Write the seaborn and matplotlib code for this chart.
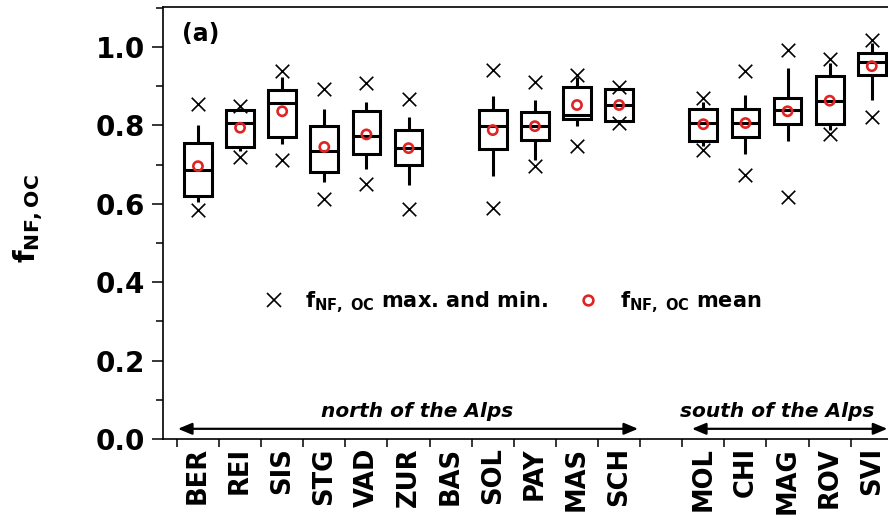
import numpy as np
import pandas as pd
import matplotlib
matplotlib.use("Agg")
import matplotlib.pyplot as plt
from matplotlib.lines import Line2D
from matplotlib.ticker import FixedLocator, MultipleLocator
import seaborn as sns

# Stations (BAS has no data), north-of-Alps group then south-of-Alps group
stations = ["BER", "REI", "SIS", "STG", "VAD", "ZUR", "BAS", "SOL", "PAY", "MAS",
            "SCH", "MOL", "CHI", "MAG", "ROV", "SVI"]
positions = [0, 1, 2, 3, 4, 5, 6, 7, 8, 9, 10, 12, 13, 14, 15, 16]

nan = np.nan
f_max = [0.854, 0.849, 0.939, 0.894, 0.909, 0.867, nan, 0.941, 0.911, 0.928,
         0.897, 0.871, 0.939, 0.992, 0.969, 1.018]
whisker_high = [0.801, 0.845, 0.923, 0.843, 0.860, 0.822, nan, 0.875, 0.866, 0.923,
                0.894, 0.859, 0.877, 0.946, 0.959, 1.010]
q3 = [0.754, 0.839, 0.890, 0.798, 0.836, 0.788, nan, 0.839, 0.835, 0.897,
      0.893, 0.841, 0.841, 0.871, 0.926, 0.984]
median = [0.685, 0.806, 0.856, 0.734, 0.773, 0.742, nan, 0.798, 0.798, 0.826,
          0.852, 0.806, 0.806, 0.839, 0.863, 0.961]
q1 = [0.621, 0.745, 0.771, 0.681, 0.726, 0.698, nan, 0.741, 0.764, 0.816,
      0.812, 0.760, 0.771, 0.803, 0.803, 0.928]
whisker_low = [0.604, 0.734, 0.752, 0.656, 0.690, 0.647, nan, 0.670, 0.711, 0.798,
               0.810, 0.747, 0.726, 0.760, 0.788, 0.864]
f_min = [0.585, 0.719, 0.711, 0.611, 0.651, 0.586, nan, 0.590, 0.696, 0.747,
         0.806, 0.737, 0.673, 0.617, 0.777, 0.822]
f_mean = [0.696, 0.794, 0.836, 0.745, 0.777, 0.742, nan, 0.788, 0.798, 0.852,
          0.852, 0.803, 0.806, 0.836, 0.863, 0.951]

RED = "#e02424"

sns.set_style("ticks")
plt.rcParams["font.family"] = ["DejaVu Sans"]
plt.rcParams["font.weight"] = "bold"
plt.rcParams["mathtext.fontset"] = "dejavusans"
for key in ("text.color", "axes.labelcolor", "xtick.color", "ytick.color", "axes.edgecolor"):
    plt.rcParams[key] = "black"

# five box statistics per station -> whis=(0, 100) reproduces them exactly
rows = []
for st, p, a, b, c, d, e in zip(stations, positions, whisker_low, q1, median, q3, whisker_high):
    if np.isnan(c):
        continue
    for v in (a, b, c, d, e):
        rows.append({"station": st, "pos": p, "value": v})
box_df = pd.DataFrame(rows)

pts = pd.DataFrame({"pos": positions, "fmin": f_min, "fmax": f_max, "fmean": f_mean}).dropna()

fig = plt.figure(figsize=(8.88, 5.16), dpi=100)
ax = fig.add_axes([163 / 888, 77 / 516, 737 / 888, 432 / 516])

sns.boxplot(data=box_df, x="pos", y="value", native_scale=True, whis=(0, 100),
            width=0.66, color="white", linecolor="black", linewidth=2.2,
            showcaps=False, showfliers=False, ax=ax)

for col in ("fmax", "fmin"):
    sns.scatterplot(data=pts, x="pos", y=col, marker="x", color="black", s=95,
                    linewidth=1.2, legend=False, ax=ax, zorder=4)
sns.scatterplot(data=pts, x="pos", y="fmean", marker="o", s=44,
                legend=False, ax=ax, zorder=6)
mean_coll = ax.collections[-1]
mean_coll.set_facecolor("none")
mean_coll.set_edgecolor(RED)
mean_coll.set_linewidth(1.9)

ax.set_xlim(-0.83, 16.67)
ax.set_ylim(0, 1.102)

ax.xaxis.set_major_locator(FixedLocator(positions))
ax.set_xticklabels(stations, rotation=90, fontsize=18.5, fontweight="bold")
ax.xaxis.set_minor_locator(FixedLocator(np.arange(-0.5, 17.0, 1.0)))
ax.tick_params(axis="x", which="major", length=0, pad=6)
ax.tick_params(axis="x", which="minor", length=6, width=1.1, direction="out")

ax.yaxis.set_minor_locator(MultipleLocator(0.1))
ax.set_yticks(np.arange(0, 1.01, 0.2))
ax.set_yticklabels([f"{v:.1f}" for v in np.arange(0, 1.01, 0.2)], fontsize=20, fontweight="bold")
ax.tick_params(axis="y", which="major", length=8, width=1.1, pad=5)
ax.tick_params(axis="y", which="minor", length=5, width=1.1)

for s in ax.spines.values():
    s.set_linewidth(1.2)
    s.set_color("black")

ax.set_xlabel("")
ax.set_ylabel(r"$\mathbf{f}_{\mathbf{NF,OC}}$", fontsize=21)
ax.yaxis.set_label_coords(-0.16, 0.51)

ax.text(0.06, 1.033, "(a)", fontsize=17, fontweight="bold", ha="center", va="center")

# region arrows and labels
arrow_kw = dict(arrowstyle="<|-|>,head_length=0.6,head_width=0.25", color="black",
                lw=1.6, shrinkA=0, shrinkB=0, mutation_scale=14)
ax.annotate("", xy=(-0.475, 0.026), xytext=(10.45, 0.026), arrowprops=arrow_kw)
ax.annotate("", xy=(11.73, 0.026), xytext=(16.37, 0.026), arrowprops=arrow_kw)
ax.text(5.2, 0.069, "north of the Alps", fontsize=14.5, fontweight="bold",
        style="italic", ha="center", va="center")
ax.text(13.75, 0.069, "south of the Alps", fontsize=14.5, fontweight="bold",
        style="italic", ha="center", va="center")

handles = [
    Line2D([], [], marker="x", ls="none", color="black", ms=10, mew=1.2),
    Line2D([], [], marker="o", ls="none", mfc="none", mec=RED, ms=7, mew=1.9),
]
labels = [r"$\mathbf{f}_{\mathbf{NF,\ OC}}$ max. and min.",
          r"$\mathbf{f}_{\mathbf{NF,\ OC}}$ mean"]
ax.legend(handles, labels, ncol=2, frameon=False, loc="center left",
          bbox_to_anchor=(1.56, 0.35), bbox_transform=ax.transData,
          borderpad=0, borderaxespad=0, handlelength=1.0, handletextpad=1.0,
          columnspacing=1.4, prop={"size": 15, "weight": "bold"})

fig.savefig("out.png", dpi=100, facecolor="white")
